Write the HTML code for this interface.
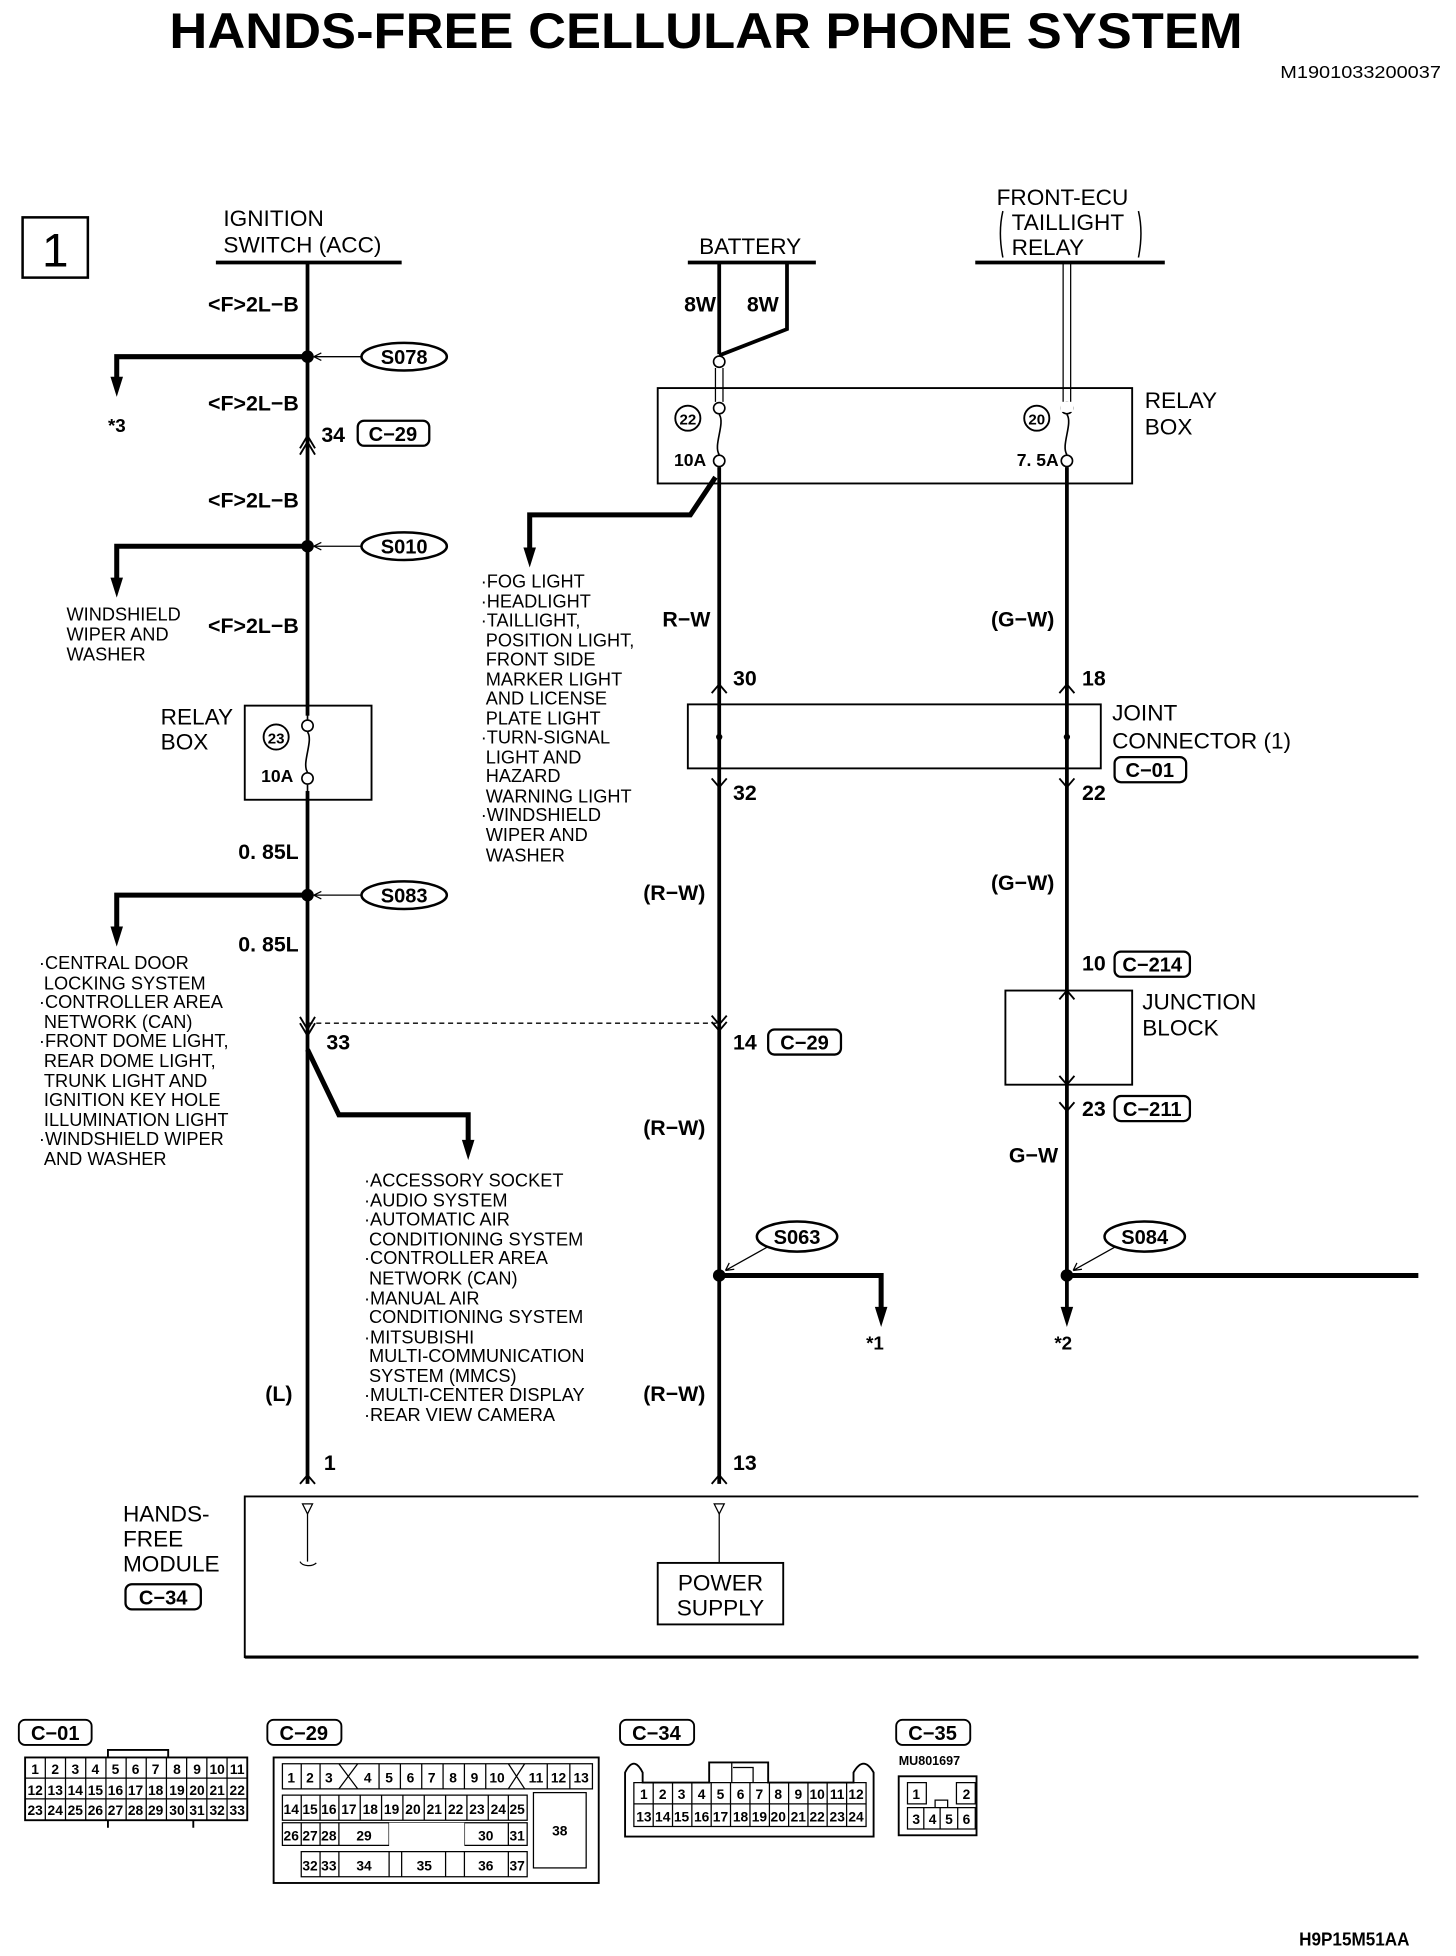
<!DOCTYPE html>
<html><head><meta charset="utf-8"><style>
html,body{margin:0;padding:0;background:#fff}
svg{display:block}
text{font-family:"Liberation Sans Narrow","Liberation Sans",sans-serif;fill:#000}
.b{font-weight:bold}
.l{font-family:"Liberation Sans",sans-serif;font-size:14.5px}
.lab{font-family:"Liberation Sans",sans-serif;font-size:18px}
.w{font-weight:bold;font-size:17px}
.c{font-weight:bold;font-size:11px;text-anchor:middle}
</style></head><body>
<svg width="1456" height="1956" viewBox="0 0 1160 1558" xmlns="http://www.w3.org/2000/svg">
<text x="135" y="38" class="b" font-size="40" textLength="855" lengthAdjust="spacingAndGlyphs" style="font-family:'Liberation Sans',sans-serif">HANDS-FREE CELLULAR PHONE SYSTEM</text>
<text x="1020" y="62" font-size="14" textLength="128" lengthAdjust="spacingAndGlyphs">M1901033200037</text>
<rect x="18" y="173" width="52" height="48" fill="none" stroke="#000" stroke-width="2"/>
<text x="44" y="212" font-size="38" text-anchor="middle" style="font-family:'Liberation Sans',sans-serif">1</text>

<text x="178" y="180" class="lab">IGNITION</text>
<text x="178" y="201" class="lab">SWITCH (ACC)</text>
<line x1="172" y1="209" x2="320" y2="209" stroke="#000" stroke-width="3"/>
<line x1="245" y1="209" x2="245" y2="1182" stroke="#000" stroke-width="3"/>
<text x="238" y="248" text-anchor="end" class="w">&lt;F&gt;2L−B</text>
<text x="238" y="327" text-anchor="end" class="w">&lt;F&gt;2L−B</text>
<text x="238" y="404" text-anchor="end" class="w">&lt;F&gt;2L−B</text>
<text x="238" y="504" text-anchor="end" class="w">&lt;F&gt;2L−B</text>
<text x="238" y="684" text-anchor="end" class="w">0. 85L</text>
<text x="238" y="758" text-anchor="end" class="w">0. 85L</text>
<text x="233" y="1116" text-anchor="end" class="w">(L)</text>
<g stroke="#000" fill="none">
<path d="M245,284 H93 V302" stroke-width="4"/>
<path d="M245,435 H93 V462" stroke-width="4"/>
<path d="M245,713 H93 V740" stroke-width="4"/>
<path d="M245,836 L270,888 H373 V910" stroke-width="4"/>
<line x1="250" y1="284" x2="288" y2="284" stroke-width="1"/>
<line x1="250" y1="435" x2="288" y2="435" stroke-width="1"/>
<line x1="250" y1="713" x2="288" y2="713" stroke-width="1"/>
<path d="M250,284 l6,-3 M250,284 l6,3 M250,435 l6,-3 M250,435 l6,3 M250,713 l6,-3 M250,713 l6,3" stroke-width="1"/>
<ellipse cx="322" cy="284" rx="34" ry="11" stroke-width="2"/>
<ellipse cx="322" cy="435" rx="34" ry="11" stroke-width="2"/>
<ellipse cx="322" cy="713" rx="34" ry="11" stroke-width="2"/>
<path d="M239,362 L245,352 L251,362 M239,357 L245,347 L251,357" stroke-width="1.5"/>
<path d="M239,810 L245,820 L251,810 M239,815 L245,825 L251,815" stroke-width="1.5"/>
<path d="M239,1182 L245,1175 L251,1182" stroke-width="1.5"/>
<rect x="285" y="335" width="57" height="20" rx="5" stroke-width="1.8"/>
<line x1="245" y1="815" x2="573" y2="815" stroke-width="1" stroke-dasharray="4,3"/>
<rect x="195" y="562" width="101" height="75" stroke-width="1.5"/>
<circle cx="220" cy="587" r="10" stroke-width="1.5"/>
</g>
<g fill="#000">
<polygon points="88,300 98,300 93,316"/>
<polygon points="88,460 98,460 93,476"/>
<polygon points="88,738 98,738 93,754"/>
<polygon points="368,908 378,908 373,924"/>
<polygon points="697,1041 707,1041 702,1057"/>
<polygon points="845,1041 855,1041 850,1057"/>
<polygon points="417,436 427,436 422,452"/>
</g>
<circle cx="245" cy="284" r="5"/><circle cx="245" cy="435" r="5"/><circle cx="245" cy="713" r="5"/>
<rect x="240" y="570" width="10" height="60" fill="#fff"/>
<g stroke="#000" fill="none" stroke-width="1.3">
<line x1="245" y1="562" x2="245" y2="573"/><line x1="245" y1="625" x2="245" y2="637"/>
<circle cx="245" cy="578" r="4.5"/><circle cx="245" cy="620" r="4.5"/>
<path d="M245,583 C250,590 240,608 245,615"/>
</g>
<text x="322" y="290" class="b" font-size="16" text-anchor="middle">S078</text>
<text x="322" y="441" class="b" font-size="16" text-anchor="middle">S010</text>
<text x="322" y="719" class="b" font-size="16" text-anchor="middle">S083</text>
<text x="86" y="344" class="b" font-size="15">*3</text>
<text x="256" y="352" class="w">34</text>
<text x="313" y="351" class="b" font-size="16" text-anchor="middle">C−29</text>
<text x="260" y="836" class="w">33</text>
<text x="258" y="1171" class="w">1</text>
<text x="220" y="592" class="b" font-size="12" text-anchor="middle">23</text>
<text x="208" y="623" class="b" font-size="14">10A</text>
<text x="128" y="577" class="lab">RELAY</text>
<text x="128" y="597" class="lab">BOX</text>
<text x="53" y="494" class="l">WINDSHIELD</text><text x="53" y="510" class="l">WIPER AND</text><text x="53" y="526" class="l">WASHER</text>
<text x="31" y="772" class="l">·CENTRAL DOOR</text>
<text x="35" y="788" class="l">LOCKING SYSTEM</text>
<text x="31" y="803" class="l">·CONTROLLER AREA</text>
<text x="35" y="819" class="l">NETWORK (CAN)</text>
<text x="31" y="834" class="l">·FRONT DOME LIGHT,</text>
<text x="35" y="850" class="l">REAR DOME LIGHT,</text>
<text x="35" y="866" class="l">TRUNK LIGHT AND</text>
<text x="35" y="881" class="l">IGNITION KEY HOLE</text>
<text x="35" y="897" class="l">ILLUMINATION LIGHT</text>
<text x="31" y="912" class="l">·WINDSHIELD WIPER</text>
<text x="35" y="928" class="l">AND WASHER</text>
<text x="290" y="945" class="l">·ACCESSORY SOCKET</text>
<text x="290" y="961" class="l">·AUDIO SYSTEM</text>
<text x="290" y="976" class="l">·AUTOMATIC AIR</text>
<text x="294" y="992" class="l">CONDITIONING SYSTEM</text>
<text x="290" y="1007" class="l">·CONTROLLER AREA</text>
<text x="294" y="1023" class="l">NETWORK (CAN)</text>
<text x="290" y="1039" class="l">·MANUAL AIR</text>
<text x="294" y="1054" class="l">CONDITIONING SYSTEM</text>
<text x="290" y="1070" class="l">·MITSUBISHI</text>
<text x="294" y="1085" class="l">MULTI-COMMUNICATION</text>
<text x="294" y="1101" class="l">SYSTEM (MMCS)</text>
<text x="290" y="1116" class="l">·MULTI-CENTER DISPLAY</text>
<text x="290" y="1132" class="l">·REAR VIEW CAMERA</text>

<text x="557" y="202" class="lab">BATTERY</text>
<line x1="548" y1="209" x2="650" y2="209" stroke="#000" stroke-width="3"/>
<g stroke="#000" fill="none">
<path d="M573,209 V282" stroke-width="3"/>
<path d="M627,209 V262 L573,283" stroke-width="3"/>
<rect x="524" y="309" width="378" height="76" stroke-width="1.5"/>
<path d="M570,293 V320 M576,293 V320" stroke-width="1"/>
<circle cx="573" cy="288" r="4.5" stroke-width="1.3" fill="#fff"/>
<circle cx="573" cy="325" r="4.5" stroke-width="1.3"/>
<circle cx="573" cy="367" r="4.5" stroke-width="1.3"/>
<path d="M573,330 C578,337 568,355 573,362" stroke-width="1.3"/>
<path d="M847,209 V320 M853,209 V320" stroke-width="1"/>
<circle cx="850" cy="325" r="4.5" stroke-width="1.3"/>
<circle cx="850" cy="367" r="4.5" stroke-width="1.3"/>
<path d="M850,330 C855,337 845,355 850,362" stroke-width="1.3"/>
<circle cx="548" cy="333" r="10" stroke-width="1.5"/>
<circle cx="826" cy="333" r="10" stroke-width="1.5"/>
<line x1="573" y1="372" x2="573" y2="1182" stroke-width="3"/>
<line x1="850" y1="372" x2="850" y2="1045" stroke-width="3"/>
<path d="M570,380 L550,410 H422 V440" stroke-width="4"/>
<rect x="548" y="561" width="329" height="51" stroke-width="1.5"/>
<path d="M567,552 L573,545 L579,552 M844,552 L850,545 L856,552" stroke-width="1.5"/>
<path d="M567,620 L573,627 L579,620 M844,620 L850,627 L856,620" stroke-width="1.5"/>
<path d="M567,809 L573,816 L579,809 M567,814 L573,821 L579,814" stroke-width="1.5"/>
<path d="M567,1182 L573,1175 L579,1182" stroke-width="1.5"/>
<rect x="888" y="603" width="57" height="20" rx="5" stroke-width="1.8"/>
<rect x="612" y="820" width="58" height="20" rx="5" stroke-width="1.8"/>
<rect x="888" y="758" width="60" height="20" rx="5" stroke-width="1.8"/>
<rect x="888" y="873" width="60" height="20" rx="5" stroke-width="1.8"/>
<rect x="801" y="789" width="101" height="75" stroke-width="1.5"/>
<path d="M844,796 L850,789 L856,796 M844,857 L850,864 L856,857 M844,878 L850,885 L856,878" stroke-width="1.5"/>
<path d="M573,1016 H702 V1043" stroke-width="4"/>
<path d="M850,1016 H1130" stroke-width="4"/>
<ellipse cx="635" cy="985" rx="32" ry="12" stroke-width="2"/>
<ellipse cx="912" cy="985" rx="32" ry="12" stroke-width="2"/>
<path d="M578,1012 L612,993 M578,1012 l7,-1 M578,1012 l3,-6" stroke-width="1"/>
<path d="M855,1012 L889,993 M855,1012 l7,-1 M855,1012 l3,-6" stroke-width="1"/>
<path d="M1130,1192 H195 V1320 H1130" stroke-width="1.5"/>
<path d="M1130,1320 H195" stroke-width="2.5"/>
<path d="M241,1198 H249 L245,1206 Z M569,1198 H577 L573,1206 Z" stroke-width="1"/>
<path d="M245,1206 V1244 M239,1244 C241,1248 249,1248 252,1245" stroke-width="1"/>
<path d="M573,1206 V1245" stroke-width="1"/>
<rect x="524" y="1245" width="100" height="49" stroke-width="1.5"/>
<rect x="100" y="1262" width="60" height="20" rx="5" stroke-width="1.8"/>
</g>
<rect x="845" y="320" width="10" height="8" fill="#fff"/>
<circle cx="573" cy="587" r="2.5"/><circle cx="850" cy="587" r="2.5"/>
<circle cx="573" cy="1016" r="5"/><circle cx="850" cy="1016" r="5"/>
<text x="548" y="338" class="b" font-size="12" text-anchor="middle">22</text>
<text x="826" y="338" class="b" font-size="12" text-anchor="middle">20</text>
<text x="537" y="371" class="b" font-size="14">10A</text>
<text x="810" y="371" class="b" font-size="14">7. 5A</text>
<text x="912" y="325" class="lab">RELAY</text>
<text x="912" y="346" class="lab">BOX</text>
<text x="545" y="248" class="w">8W</text>
<text x="595" y="248" class="w">8W</text>
<text x="566" y="499" text-anchor="end" class="w">R−W</text>
<text x="840" y="499" text-anchor="end" class="w">(G−W)</text>
<text x="840" y="709" text-anchor="end" class="w">(G−W)</text>
<text x="562" y="717" text-anchor="end" class="w">(R−W)</text>
<text x="562" y="904" text-anchor="end" class="w">(R−W)</text>
<text x="562" y="1116" text-anchor="end" class="w">(R−W)</text>
<text x="843" y="926" text-anchor="end" class="w">G−W</text>
<text x="584" y="546" class="w">30</text>
<text x="584" y="637" class="w">32</text>
<text x="862" y="546" class="w">18</text>
<text x="862" y="637" class="w">22</text>
<text x="584" y="836" class="w">14</text>
<text x="641" y="836" class="b" font-size="16" text-anchor="middle">C−29</text>
<text x="862" y="773" class="w">10</text>
<text x="918" y="774" class="b" font-size="16" text-anchor="middle">C−214</text>
<text x="862" y="889" class="w">23</text>
<text x="918" y="889" class="b" font-size="16" text-anchor="middle">C−211</text>
<text x="916" y="619" class="b" font-size="16" text-anchor="middle">C−01</text>
<text x="584" y="1171" class="w">13</text>
<text x="635" y="991" class="b" font-size="16" text-anchor="middle">S063</text>
<text x="912" y="991" class="b" font-size="16" text-anchor="middle">S084</text>
<text x="690" y="1075" class="b" font-size="15">*1</text>
<text x="840" y="1075" class="b" font-size="15">*2</text>
<text x="886" y="574" class="lab">JOINT</text>
<text x="886" y="596" class="lab">CONNECTOR (1)</text>
<text x="910" y="804" class="lab">JUNCTION</text>
<text x="910" y="825" class="lab">BLOCK</text>
<text x="574" y="1267" class="lab" text-anchor="middle">POWER</text>
<text x="574" y="1287" class="lab" text-anchor="middle">SUPPLY</text>
<text x="98" y="1212" class="lab">HANDS-</text>
<text x="98" y="1232" class="lab">FREE</text>
<text x="98" y="1252" class="lab">MODULE</text>
<text x="130" y="1278" class="b" font-size="16" text-anchor="middle">C−34</text>
<text x="383" y="468" class="l">·FOG LIGHT</text>
<text x="383" y="484" class="l">·HEADLIGHT</text>
<text x="383" y="499" class="l">·TAILLIGHT,</text>
<text x="387" y="515" class="l">POSITION LIGHT,</text>
<text x="387" y="530" class="l">FRONT SIDE</text>
<text x="387" y="546" class="l">MARKER LIGHT</text>
<text x="387" y="561" class="l">AND LICENSE</text>
<text x="387" y="577" class="l">PLATE LIGHT</text>
<text x="383" y="592" class="l">·TURN-SIGNAL</text>
<text x="387" y="608" class="l">LIGHT AND</text>
<text x="387" y="623" class="l">HAZARD</text>
<text x="387" y="639" class="l">WARNING LIGHT</text>
<text x="383" y="654" class="l">·WINDSHIELD</text>
<text x="387" y="670" class="l">WIPER AND</text>
<text x="387" y="686" class="l">WASHER</text>
<text x="794" y="163" class="lab">FRONT-ECU</text>
<text x="806" y="183" class="lab">TAILLIGHT</text>
<text x="806" y="203" class="lab">RELAY</text>
<path d="M799,168 Q795,185 799,205 M907,168 Q911,185 907,205" stroke="#000" fill="none" stroke-width="1.2"/>
<line x1="777" y1="209" x2="928" y2="209" stroke="#000" stroke-width="3"/>

<g stroke="#000" fill="none" stroke-width="1.5">
<rect x="15" y="1370" width="58" height="20" rx="5"/>
<rect x="213" y="1370" width="59" height="20" rx="5"/>
<rect x="494" y="1370" width="59" height="20" rx="5"/>
<rect x="714" y="1370" width="59" height="20" rx="5"/>
<rect x="20" y="1400" width="177" height="50"/>
<path d="M86,1400 V1394 H134 V1400 M86,1450 V1456 M154,1450 V1456"/>
<path d="M20,1416.5 H197 M20,1433 H197" stroke-width="1"/>
<rect x="218" y="1400" width="259" height="100"/>
<path d="M225,1405 H472 V1425 H225 Z M225,1430 H420 V1450 H225 Z" stroke-width="1"/>
<path d="M225,1452 H420 V1470 H225 Z M240,1475 H420 V1495 H240 Z" stroke-width="1"/>
<rect x="425" y="1428" width="42" height="60" stroke-width="1"/>
<path d="M270,1405 L285,1425 M285,1405 L270,1425 M405,1405 L418,1425 M418,1405 L405,1425" stroke-width="1"/>
<path d="M498,1463 V1412 Q505,1398 512,1412 V1420 H565 V1404 H612 V1420 H680 V1412 Q688,1398 696,1412 V1463 Z"/>
<path d="M505,1420 H690 V1455 H505 Z M505,1437 H690" stroke-width="1"/>
<path d="M583,1420 V1404 M600,1420 V1408 H584" stroke-width="1"/>
<rect x="716" y="1415" width="62" height="47"/>
<path d="M723,1420 H738 V1437 H723 Z M762,1420 H777 V1437 H762 Z M723,1440 H777 V1457 H723 Z" stroke-width="1"/>
<path d="M736,1440 V1457 M749,1440 V1457 M763,1440 V1457 M745,1440 V1434 H755 V1440" stroke-width="1"/>
</g>
<g stroke="#000" stroke-width="1">
<path d="M36.1,1400V1450M52.2,1400V1450M68.3,1400V1450M84.4,1400V1450M100.5,1400V1450M116.5,1400V1450M132.6,1400V1450M148.7,1400V1450M164.8,1400V1450M180.9,1400V1450"/>
<path d="M240,1405V1425M255,1405V1425M302,1405V1425M319,1405V1425M336,1405V1425M353,1405V1425M370,1405V1425M387,1405V1425M436,1405V1425M454,1405V1425"/>
<path d="M240,1430V1450M255,1430V1450M270,1430V1450M287,1430V1450M304,1430V1450M321,1430V1450M338,1430V1450M355,1430V1450M372,1430V1450M389,1430V1450M405,1430V1450"/>
<path d="M240,1452V1470M255,1452V1470M270,1452V1470M310,1452V1470M370,1452V1470M405,1452V1470M255,1475V1495M270,1475V1495M310,1475V1495M320,1475V1495M355,1475V1495M370,1475V1495M405,1475V1495"/>
<path d="M520.4,1420V1455M535.8,1420V1455M551.2,1420V1455M566.6,1420V1455M582,1420V1455M597.5,1420V1455M613,1420V1455M628.3,1420V1455M643.7,1420V1455M659,1420V1455M674.5,1420V1455"/>
</g>
<rect x="310" y="1452" width="60" height="22" fill="#fff"/>
<text x="44" y="1386" class="b" font-size="16" text-anchor="middle">C−01</text>
<text x="242" y="1386" class="b" font-size="16" text-anchor="middle">C−29</text>
<text x="523" y="1386" class="b" font-size="16" text-anchor="middle">C−34</text>
<text x="743" y="1386" class="b" font-size="16" text-anchor="middle">C−35</text>
<text x="716" y="1406" class="b" font-size="10">MU801697</text>
<g>
<text class="c" x="28" y="1413">1</text><text class="c" x="44" y="1413">2</text><text class="c" x="60" y="1413">3</text><text class="c" x="76" y="1413">4</text><text class="c" x="92" y="1413">5</text><text class="c" x="108" y="1413">6</text><text class="c" x="124" y="1413">7</text><text class="c" x="141" y="1413">8</text><text class="c" x="157" y="1413">9</text><text class="c" x="173" y="1413">10</text><text class="c" x="189" y="1413">11</text>
<text class="c" x="28" y="1430">12</text><text class="c" x="44" y="1430">13</text><text class="c" x="60" y="1430">14</text><text class="c" x="76" y="1430">15</text><text class="c" x="92" y="1430">16</text><text class="c" x="108" y="1430">17</text><text class="c" x="124" y="1430">18</text><text class="c" x="141" y="1430">19</text><text class="c" x="157" y="1430">20</text><text class="c" x="173" y="1430">21</text><text class="c" x="189" y="1430">22</text>
<text class="c" x="28" y="1446">23</text><text class="c" x="44" y="1446">24</text><text class="c" x="60" y="1446">25</text><text class="c" x="76" y="1446">26</text><text class="c" x="92" y="1446">27</text><text class="c" x="108" y="1446">28</text><text class="c" x="124" y="1446">29</text><text class="c" x="141" y="1446">30</text><text class="c" x="157" y="1446">31</text><text class="c" x="173" y="1446">32</text><text class="c" x="189" y="1446">33</text>
</g>
<g>
<text class="c" x="232" y="1420">1</text><text class="c" x="247" y="1420">2</text><text class="c" x="262" y="1420">3</text><text class="c" x="293" y="1420">4</text><text class="c" x="310" y="1420">5</text><text class="c" x="327" y="1420">6</text><text class="c" x="344" y="1420">7</text><text class="c" x="361" y="1420">8</text><text class="c" x="378" y="1420">9</text><text class="c" x="396" y="1420">10</text><text class="c" x="427" y="1420">11</text><text class="c" x="445" y="1420">12</text><text class="c" x="463" y="1420">13</text>
<text class="c" x="232" y="1445">14</text><text class="c" x="247" y="1445">15</text><text class="c" x="262" y="1445">16</text><text class="c" x="278" y="1445">17</text><text class="c" x="295" y="1445">18</text><text class="c" x="312" y="1445">19</text><text class="c" x="329" y="1445">20</text><text class="c" x="346" y="1445">21</text><text class="c" x="363" y="1445">22</text><text class="c" x="380" y="1445">23</text><text class="c" x="397" y="1445">24</text><text class="c" x="412" y="1445">25</text>
<text class="c" x="232" y="1466">26</text><text class="c" x="247" y="1466">27</text><text class="c" x="262" y="1466">28</text><text class="c" x="290" y="1466">29</text><text class="c" x="387" y="1466">30</text><text class="c" x="412" y="1466">31</text><text class="c" x="446" y="1462">38</text>
<text class="c" x="247" y="1490">32</text><text class="c" x="262" y="1490">33</text><text class="c" x="290" y="1490">34</text><text class="c" x="338" y="1490">35</text><text class="c" x="387" y="1490">36</text><text class="c" x="412" y="1490">37</text>
</g>
<g>
<text class="c" x="513" y="1433">1</text><text class="c" x="528" y="1433">2</text><text class="c" x="543" y="1433">3</text><text class="c" x="559" y="1433">4</text><text class="c" x="574" y="1433">5</text><text class="c" x="590" y="1433">6</text><text class="c" x="605" y="1433">7</text><text class="c" x="620" y="1433">8</text><text class="c" x="636" y="1433">9</text><text class="c" x="651" y="1433">10</text><text class="c" x="667" y="1433">11</text><text class="c" x="682" y="1433">12</text>
<text class="c" x="513" y="1451">13</text><text class="c" x="528" y="1451">14</text><text class="c" x="543" y="1451">15</text><text class="c" x="559" y="1451">16</text><text class="c" x="574" y="1451">17</text><text class="c" x="590" y="1451">18</text><text class="c" x="605" y="1451">19</text><text class="c" x="620" y="1451">20</text><text class="c" x="636" y="1451">21</text><text class="c" x="651" y="1451">22</text><text class="c" x="667" y="1451">23</text><text class="c" x="682" y="1451">24</text>
</g>
<g>
<text class="c" x="730" y="1433">1</text><text class="c" x="770" y="1433">2</text><text class="c" x="730" y="1453">3</text><text class="c" x="743" y="1453">4</text><text class="c" x="756" y="1453">5</text><text class="c" x="770" y="1453">6</text>
</g>
<text x="1035" y="1550" class="b" font-size="15" textLength="88" lengthAdjust="spacingAndGlyphs">H9P15M51AA</text>
</svg>
</body></html>
